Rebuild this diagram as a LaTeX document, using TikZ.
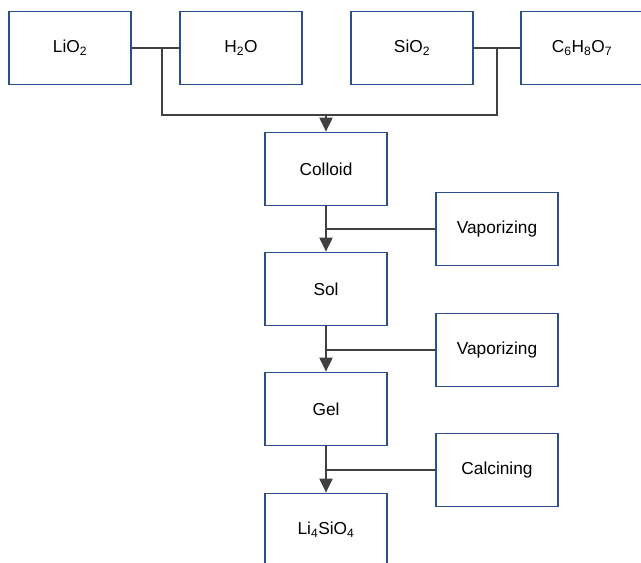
\documentclass[tikz,border=0pt]{standalone}
\usepackage{fontspec}
\setmainfont{Liberation Sans}
\usetikzlibrary{arrows.meta}
\definecolor{boxblue}{HTML}{2B4F8A}
\definecolor{linegray}{HTML}{404040}
\tikzset{
  box/.style={draw=boxblue, line width=1.7bp, minimum width=122bp, minimum height=73bp, inner sep=0pt, font=\fontsize{17.3bp}{20bp}\selectfont, anchor=center},
  conn/.style={draw=linegray, line width=2bp},
  arr/.style={conn, -{Triangle[length=14bp,width=13bp]}}
}
\newcommand{\sub}[1]{\textsubscript{#1}}
\begin{document}
\begin{tikzpicture}[x=1bp,y=-1bp]
\useasboundingbox (0,0) rectangle (641,563);
\clip (0,0) rectangle (641,563);
% top row
\node[box] (lio) at (70,48) {LiO\sub{2}};
\node[box] (h2o) at (241,48) {H\sub{2}O};
\node[box] (sio) at (412,48) {SiO\sub{2}};
\node[box] (cit) at (582,48) {C\sub{6}H\sub{8}O\sub{7}};
% main column
\node[box] (colloid) at (326,169) {Colloid};
\node[box] (sol) at (326,289) {Sol};
\node[box] (gel) at (326,409) {Gel};
\node[box] (li) at (326,530) {Li\sub{4}SiO\sub{4}};
% side boxes
\node[box] (vap1) at (497,229) {Vaporizing};
\node[box] (vap2) at (497,350) {Vaporizing};
\node[box] (calc) at (497,470) {Calcining};
% top merge
\coordinate (jl) at (162,48);
\coordinate (jr) at (497,48);
\coordinate (m) at (326,115);
\draw[conn] (lio.east) -- (h2o.west);
\draw[conn] (sio.east) -- (cit.west);
\draw[conn] (jl) -- (jl |- m) -- (jr |- m) -- (jr);
\draw[arr] (m) -- (colloid.north);
% column arrows
\draw[arr] (colloid.south) -- (sol.north);
\draw[arr] (sol.south) -- (gel.north);
\draw[arr] (gel.south) -- (li.north);
% side lines
\draw[conn] (vap1.west) -- (vap1.west -| colloid.south);
\draw[conn] (vap2.west) -- (vap2.west -| sol.south);
\draw[conn] (calc.west) -- (calc.west -| gel.south);
\end{tikzpicture}
\end{document}
